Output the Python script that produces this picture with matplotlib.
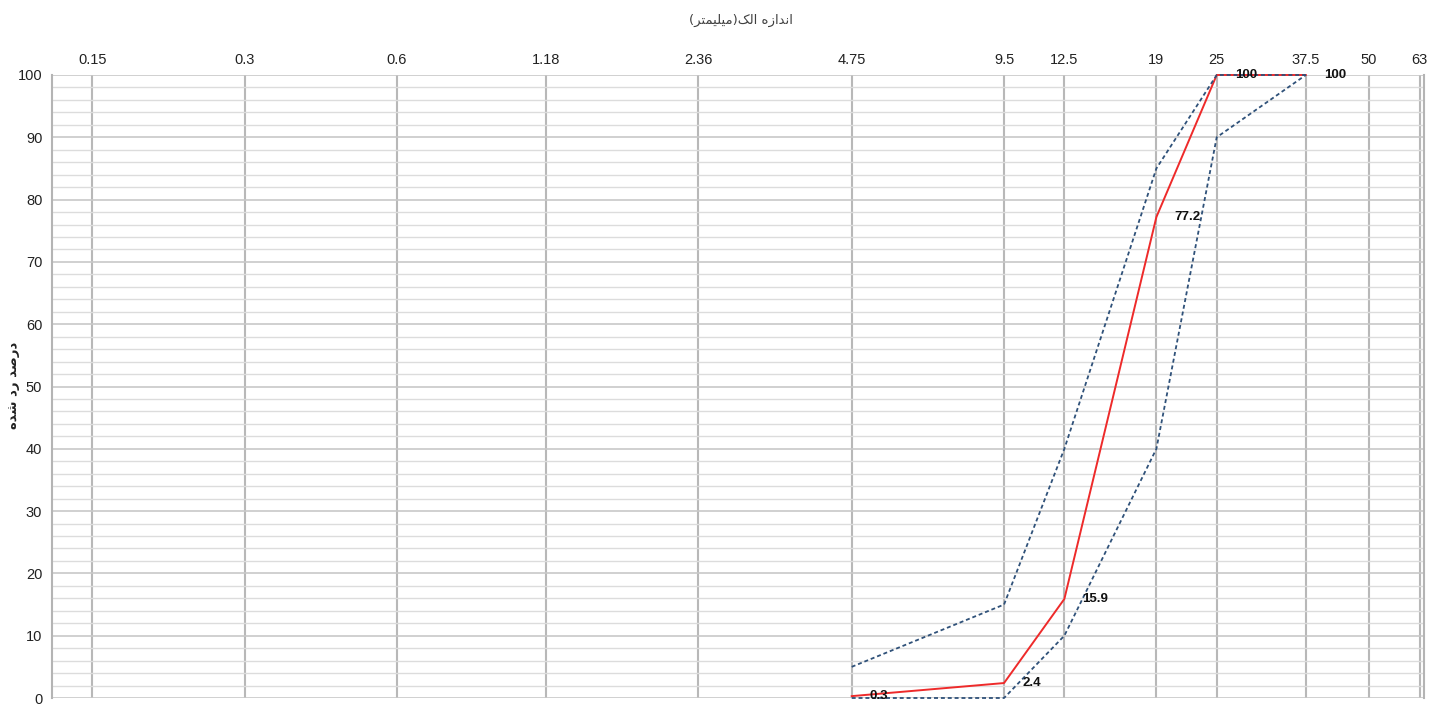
import matplotlib
matplotlib.use("Agg")
import matplotlib.pyplot as plt
from matplotlib.ticker import FixedLocator, MultipleLocator, NullFormatter, NullLocator

# ---------------- data ----------------
sieve_sizes = [0.15, 0.3, 0.6, 1.18, 2.36, 4.75, 9.5, 12.5, 19, 25, 37.5, 50, 63]
sieve_labels = ["0.15", "0.3", "0.6", "1.18", "2.36", "4.75", "9.5", "12.5", "19", "25", "37.5", "50", "63"]
sample_sizes = [4.75, 9.5, 12.5, 19, 25, 37.5]
passing = [0.3, 2.4, 15.9, 77.2, 100, 100]
passing_labels = ["0.3", "2.4", "15.9", "77.2", "100", "100"]
upper_limit = [5, 15, 40, 85, 100, 100]
lower_limit = [0, 0, 10, 40, 90, 100]
y_ticks = [0, 10, 20, 30, 40, 50, 60, 70, 80, 90, 100]

title_text = "اندازه الک(میلیمتر)"
ylabel_text = "درصد رد شده"

# ---------------- minimal Persian shaping (presentation forms) ----------------
FORMS = {  # isolated, final, initial, medial
    "ا": ("\uFE8D", "\uFE8E", None, None),
    "د": ("\uFEA9", "\uFEAA", None, None),
    "ز": ("\uFEAF", "\uFEB0", None, None),
    "ر": ("\uFEAD", "\uFEAE", None, None),
    "ن": ("\uFEE5", "\uFEE6", "\uFEE7", "\uFEE8"),
    "ه": ("\uFEE9", "\uFEEA", "\uFEEB", "\uFEEC"),
    "ل": ("\uFEDD", "\uFEDE", "\uFEDF", "\uFEE0"),
    "ک": ("\uFB8E", "\uFB8F", "\uFB90", "\uFB91"),
    "م": ("\uFEE1", "\uFEE2", "\uFEE3", "\uFEE4"),
    "ی": ("\uFBFC", "\uFBFD", "\uFBFE", "\uFBFF"),
    "ت": ("\uFE95", "\uFE96", "\uFE97", "\uFE98"),
    "ص": ("\uFEB9", "\uFEBA", "\uFEBB", "\uFEBC"),
    "ش": ("\uFEB5", "\uFEB6", "\uFEB7", "\uFEB8"),
}


def shape_rtl(text):
    out = []
    n = len(text)
    for i, ch in enumerate(text):
        if ch not in FORMS:
            out.append(ch)
            continue
        f = FORMS[ch]
        prev = text[i - 1] if i > 0 else None
        nxt = text[i + 1] if i < n - 1 else None
        jp = prev in FORMS and FORMS[prev][2] is not None
        jn = f[2] is not None and nxt in FORMS
        if jp and jn:
            out.append(f[3])
        elif jp:
            out.append(f[1])
        elif jn:
            out.append(f[2])
        else:
            out.append(f[0])
    vis = "".join(reversed(out))
    swap = {"(": ")", ")": "("}
    return "".join(swap.get(c, c) for c in vis)


# ---------------- figure ----------------
fig = plt.figure(figsize=(14.37, 7.04), dpi=100)
ax = fig.add_axes([52 / 1437, 6 / 704, 1372 / 1437, 623 / 704])

ax.set_xscale("log")
ax.set_xlim(0.1249, 64.2)
ax.set_ylim(0, 100)

ax.xaxis.set_major_locator(FixedLocator(sieve_sizes))
ax.xaxis.set_minor_locator(NullLocator())
ax.set_xticks(sieve_sizes)
ax.set_xticklabels(sieve_labels)
ax.xaxis.set_minor_formatter(NullFormatter())
ax.xaxis.tick_top()
ax.tick_params(axis="x", which="both", length=0, pad=6, labelsize=10.5, labelcolor="#222222")

ax.set_yticks(y_ticks)
ax.yaxis.set_minor_locator(MultipleLocator(2))
ax.tick_params(axis="y", which="both", length=0, pad=7, labelsize=10.5, labelcolor="#222222")

for lab in ax.get_xticklabels() + ax.get_yticklabels():
    lab.set_fontfamily(["Liberation Sans", "DejaVu Sans"])

ax.grid(True, axis="y", which="minor", color="#dcdcdc", linewidth=1.0)
ax.grid(True, axis="y", which="major", color="#c8c8c8", linewidth=1.2)
ax.grid(True, axis="x", which="major", color="#b8b8b8", linewidth=1.5)
ax.set_axisbelow(True)

for s in ["top", "bottom"]:
    ax.spines[s].set_visible(False)
for s in ["left", "right"]:
    ax.spines[s].set_color("#b4b4b4")
    ax.spines[s].set_linewidth(1.5)

# series
ax.plot(sample_sizes, passing, color="#ee2a2a", linewidth=1.4, zorder=3, clip_on=False)
ax.plot(sample_sizes, upper_limit, color="#2f5179", linewidth=1.3,
        linestyle=(0, (2.2, 1.6)), zorder=4, clip_on=False)
ax.plot(sample_sizes, lower_limit, color="#2f5179", linewidth=1.3,
        linestyle=(0, (2.2, 1.6)), zorder=4, clip_on=False)

for xv, yv, lbl in zip(sample_sizes, passing, passing_labels):
    ax.annotate(lbl, (xv, yv), xytext=(13, 0), textcoords="offset points",
                ha="left", va="center", fontsize=9.5, fontweight="bold",
                color="#111111", family=["Liberation Sans", "DejaVu Sans"],
                zorder=5, annotation_clip=False)

fig.text(741 / 1437, 1 - 20 / 704, shape_rtl(title_text), ha="center", va="center",
         fontsize=9.5, color="#404040", family=["DejaVu Sans"])
fig.text(14 / 1437, 1 - 385 / 704, shape_rtl(ylabel_text), ha="center", va="center",
         rotation=90, fontsize=9.5, color="#222222", fontweight="bold", family=["DejaVu Sans"])

fig.savefig("out.png", dpi=100)
